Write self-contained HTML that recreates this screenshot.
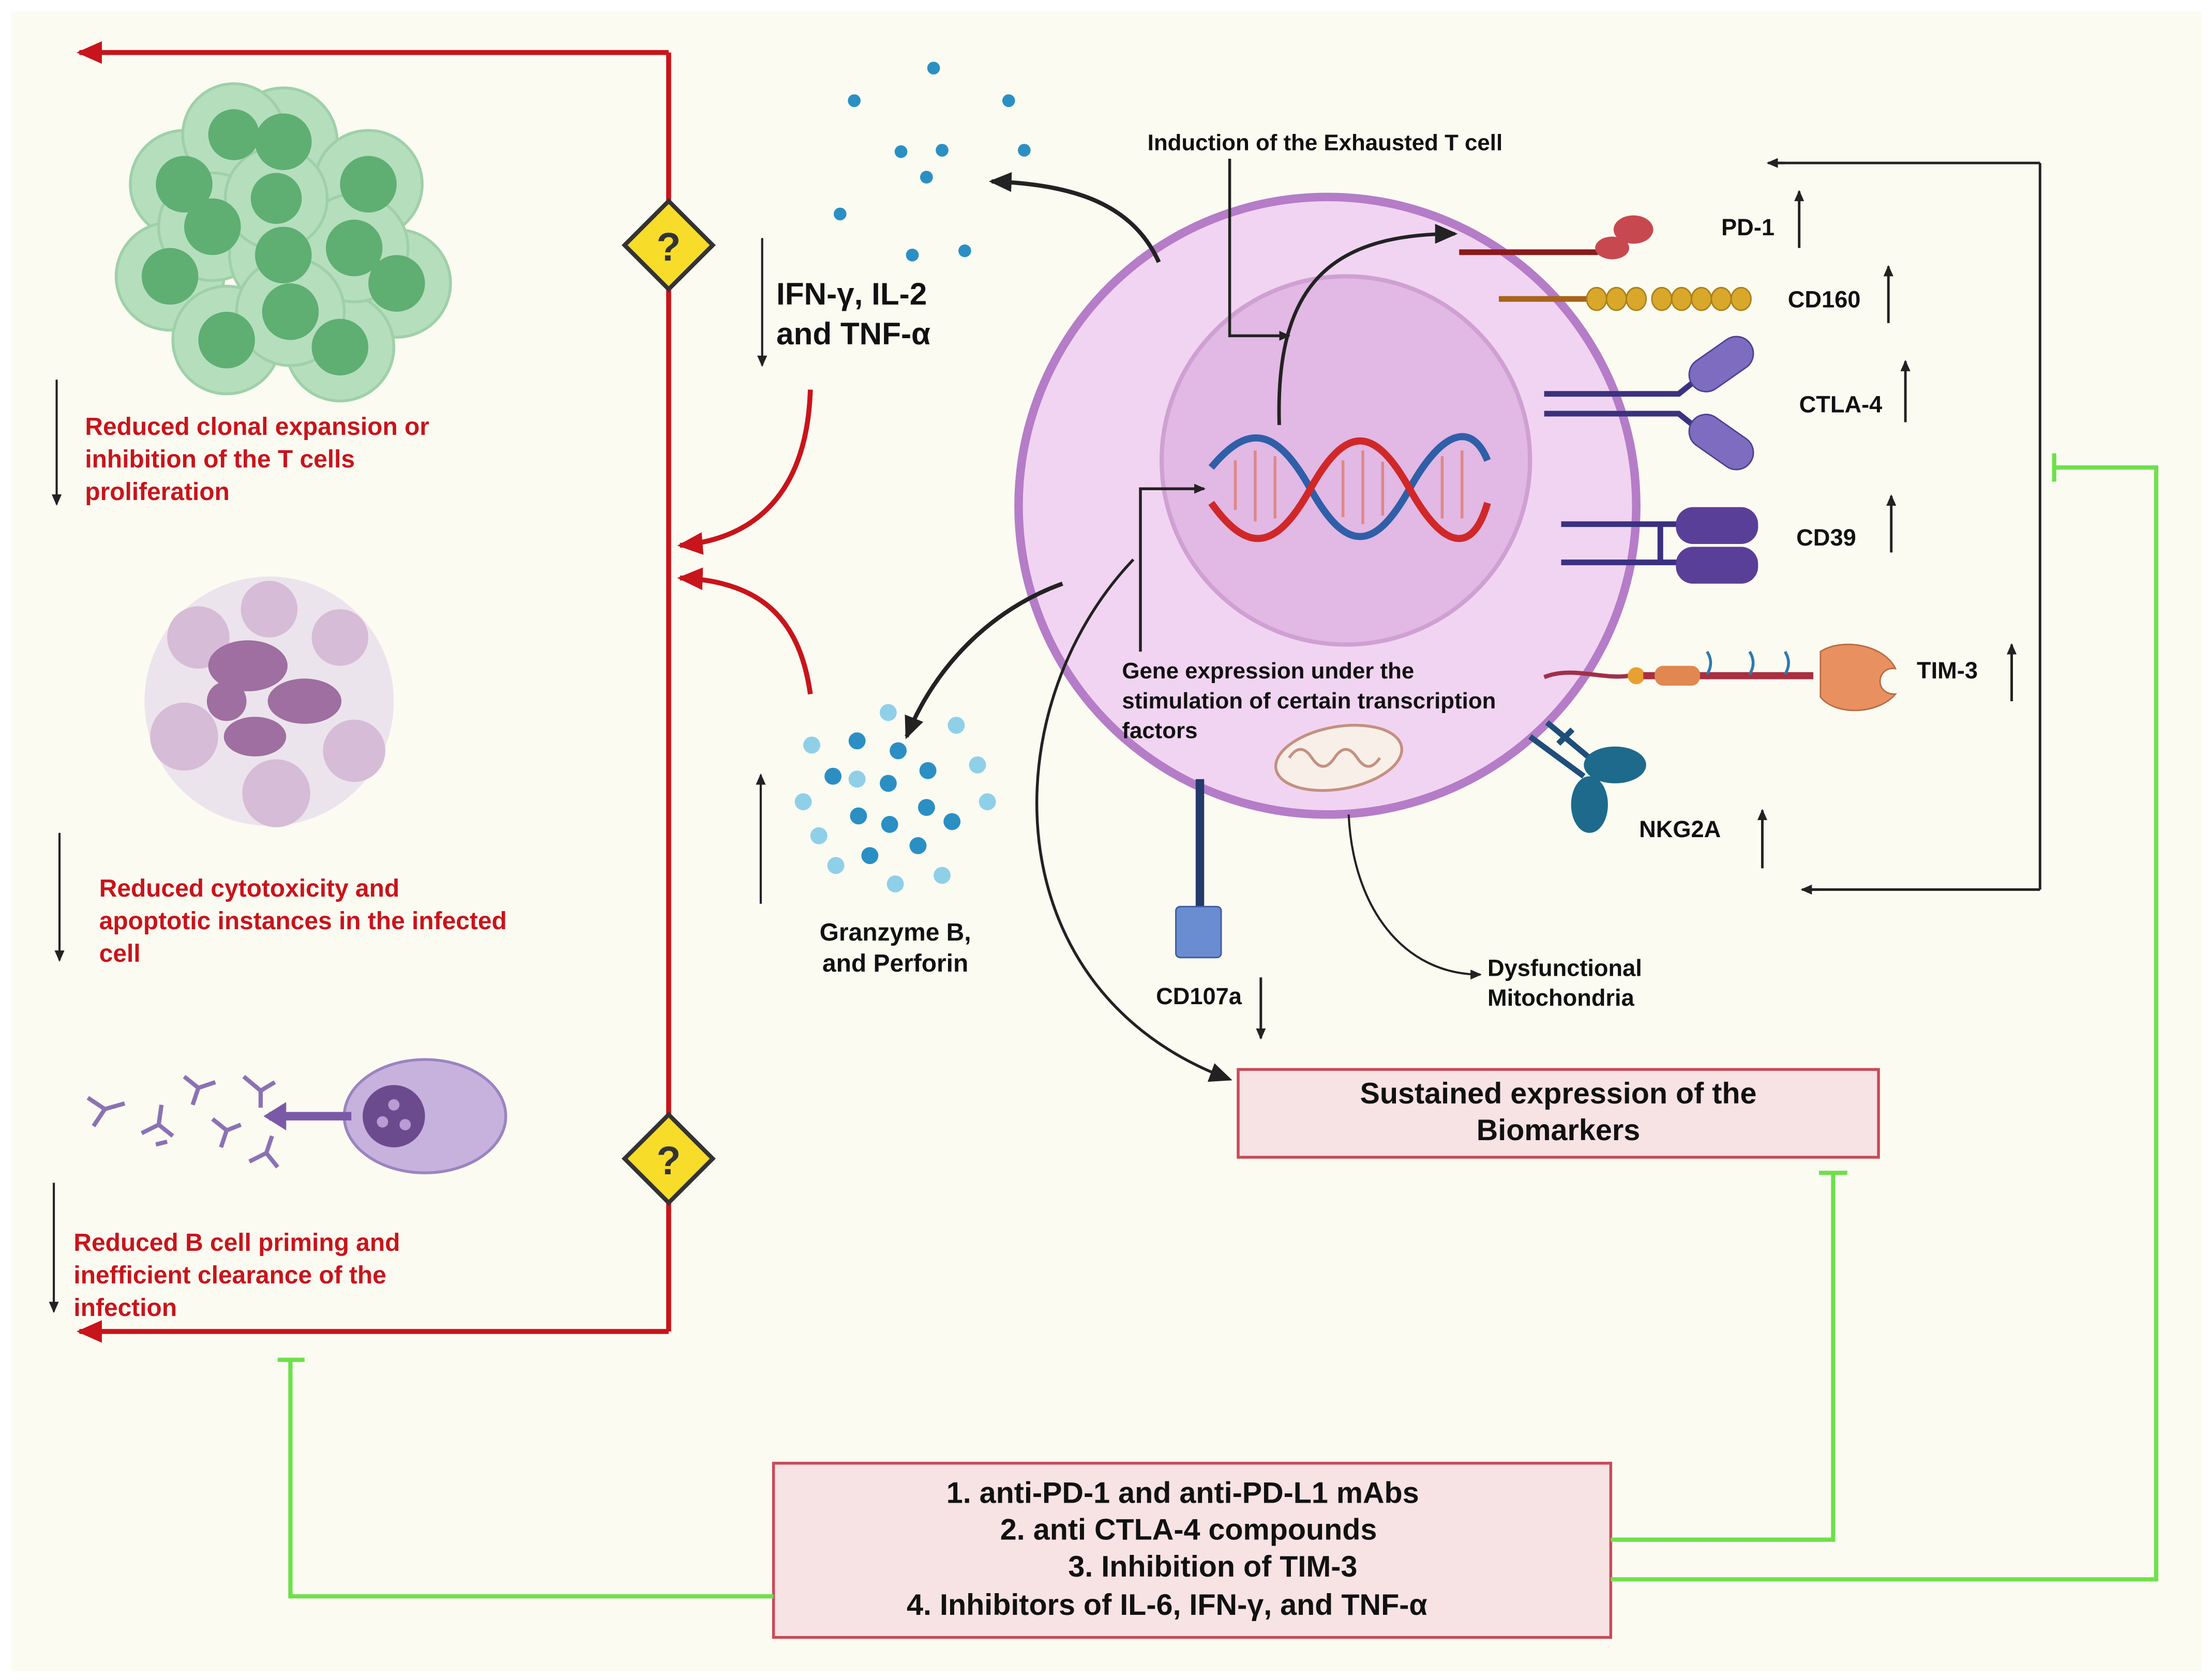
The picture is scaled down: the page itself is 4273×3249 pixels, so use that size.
<!DOCTYPE html>
<html><head><meta charset="utf-8">
<style>
html,body{margin:0;padding:0;background:#fff;}
svg{display:block;}
text{font-family:"Liberation Sans",Arial,sans-serif;font-weight:bold;}
</style></head>
<body>
<svg width="4273" height="3249" viewBox="0 0 1560 1186" xmlns="http://www.w3.org/2000/svg">
<defs>
<marker id="ar" markerWidth="10" markerHeight="10" refX="8" refY="5" orient="auto" markerUnits="userSpaceOnUse"><path d="M0,1 L9,5 L0,9 z" fill="#c8141b"/></marker>
<marker id="ab" markerWidth="16" markerHeight="14" refX="14" refY="7" orient="auto" markerUnits="userSpaceOnUse"><path d="M0,0 L16,7 L0,14 z" fill="#222"/></marker>
<marker id="as" markerWidth="8" markerHeight="8" refX="7" refY="4" orient="auto" markerUnits="userSpaceOnUse"><path d="M0,0.5 L8,4 L0,7.5 z" fill="#222"/></marker>
<marker id="arb" markerWidth="18" markerHeight="16" refX="16" refY="8" orient="auto" markerUnits="userSpaceOnUse"><path d="M0,0 L18,8 L0,16 z" fill="#c8141b"/></marker>
</defs>
<rect width="1560" height="1186" fill="#ffffff"/>
<rect x="8" y="8" width="1546" height="1172" fill="#fbfbf2"/>

<!-- red frame -->
<g stroke="#c8141b" stroke-width="3.5" fill="none">
<path d="M472,37 L56,37" marker-end="url(#arb)"/>
<path d="M472,37 L472,940"/>
<path d="M472,940 L56,940" marker-end="url(#arb)"/>
<path d="M572,275 C570,340 540,380 480,385" marker-end="url(#arb)"/>
<path d="M572,490 C565,440 540,410 480,408" marker-end="url(#arb)"/>
</g>
<g>
<rect x="450" y="151" width="44" height="44" transform="rotate(45 472 173)" fill="#f7dc2a" stroke="#333" stroke-width="3"/>
<text x="472" y="184" font-size="28" text-anchor="middle" font-family="Liberation Serif" font-weight="normal" fill="#333">?</text>
<rect x="450" y="796" width="44" height="44" transform="rotate(45 472 818)" fill="#f7dc2a" stroke="#333" stroke-width="3"/>
<text x="472" y="829" font-size="28" text-anchor="middle" font-family="Liberation Serif" font-weight="normal" fill="#333">?</text>
</g>

<!-- green cell cluster -->
<g stroke="#9fd0a8" stroke-width="2">
<g fill="#b5dfbc">
<circle cx="130" cy="130" r="38"/><circle cx="200" cy="100" r="38"/><circle cx="260" cy="130" r="38"/><circle cx="120" cy="195" r="38"/>
<circle cx="280" cy="200" r="38"/><circle cx="160" cy="240" r="38"/><circle cx="240" cy="245" r="38"/><circle cx="165" cy="95" r="36"/>
<circle cx="150" cy="160" r="38"/><circle cx="200" cy="180" r="38"/><circle cx="250" cy="175" r="38"/><circle cx="195" cy="140" r="36"/><circle cx="205" cy="220" r="38"/>
</g>
<g fill="#5fae72" stroke="none">
<circle cx="130" cy="130" r="20"/><circle cx="200" cy="100" r="20"/><circle cx="260" cy="130" r="20"/><circle cx="120" cy="195" r="20"/>
<circle cx="280" cy="200" r="20"/><circle cx="160" cy="240" r="20"/><circle cx="240" cy="245" r="20"/><circle cx="165" cy="95" r="18"/>
<circle cx="150" cy="160" r="20"/><circle cx="200" cy="180" r="20"/><circle cx="250" cy="175" r="20"/><circle cx="195" cy="140" r="18"/><circle cx="205" cy="220" r="20"/>
</g>
</g>

<!-- purple blob cluster -->
<g>
<circle cx="190" cy="495" r="88" fill="#ece4ec"/>
<g fill="#d6bcd6"><circle cx="140" cy="450" r="22"/><circle cx="240" cy="450" r="20"/><circle cx="130" cy="520" r="24"/><circle cx="250" cy="530" r="22"/><circle cx="190" cy="430" r="20"/><circle cx="195" cy="560" r="24"/></g>
<g fill="#9e6fa0"><ellipse cx="175" cy="470" rx="28" ry="18"/><ellipse cx="215" cy="495" rx="26" ry="16"/><ellipse cx="180" cy="520" rx="22" ry="14"/><circle cx="160" cy="495" r="14"/></g>
</g>

<!-- B cell + antibodies -->
<g>
<ellipse cx="300" cy="788" rx="57" ry="40" fill="#c7b2de" stroke="#9a84c0" stroke-width="2"/>
<circle cx="278" cy="788" r="22" fill="#6b4b8e"/>
<g fill="#b89cd4"><circle cx="278" cy="780" r="4"/><circle cx="270" cy="792" r="4"/><circle cx="286" cy="794" r="4"/></g>
<path d="M248,788 L190,788" stroke="#7a5aa8" stroke-width="6"/><path d="M186,788 L202,778 L202,798 z" fill="#7a5aa8"/>
<g stroke="#8a72b4" stroke-width="3" fill="none">
<path d="M62,775 l12,8 l14,-4 M74,783 l-8,12 M100,800 l12,-6 l10,8 M112,794 l2,-14 M130,760 l10,8 l12,-4 M140,768 l-4,12 M150,790 l10,8 l10,-4 M160,798 l-4,12 M172,760 l12,10 l10,-6 M184,770 l0,12 M176,820 l12,-6 l8,10 M188,814 l4,-12 M110,808 l8,-2"/>
</g>
</g>

<!-- red texts -->
<g fill="#c8141b" font-size="17.5">
<text x="60" y="307">Reduced clonal expansion or</text>
<text x="60" y="330">inhibition of the T cells</text>
<text x="60" y="353">proliferation</text>
<text x="70" y="633">Reduced cytotoxicity and</text>
<text x="70" y="656">apoptotic instances in the infected</text>
<text x="70" y="679">cell</text>
<text x="52" y="883">Reduced B cell priming and</text>
<text x="52" y="906">inefficient clearance of the</text>
<text x="52" y="929">infection</text>
</g>
<g stroke="#222" stroke-width="1.5">
<path d="M40,268 L40,356" marker-end="url(#as)"/>
<path d="M42,588 L42,678" marker-end="url(#as)"/>
<path d="M38,835 L38,926" marker-end="url(#as)"/>
<path d="M538,168 L538,258" marker-end="url(#as)"/>
<path d="M537,638 L537,547" marker-end="url(#as)"/>
</g>

<!-- cytokine dots -->
<g fill="#2b8fc4">
<circle cx="659" cy="48" r="4.5"/><circle cx="603" cy="71" r="4.5"/><circle cx="712" cy="71" r="4.5"/><circle cx="636" cy="107" r="4.5"/><circle cx="665" cy="106" r="4.5"/><circle cx="723" cy="106" r="4.5"/><circle cx="654" cy="125" r="4.5"/><circle cx="593" cy="151" r="4.5"/><circle cx="644" cy="180" r="4.5"/><circle cx="681" cy="177" r="4.5"/>
</g>
<g font-size="22" fill="#111"><text x="548" y="215">IFN-γ, IL-2</text><text x="548" y="243">and TNF-α</text></g>

<!-- granzyme dots -->
<g>
<g fill="#8fd0e8"><circle cx="627" cy="503" r="6"/><circle cx="573" cy="526" r="6"/><circle cx="675" cy="512" r="6"/><circle cx="567" cy="566" r="6"/><circle cx="697" cy="566" r="6"/><circle cx="590" cy="611" r="6"/><circle cx="632" cy="624" r="6"/><circle cx="665" cy="618" r="6"/><circle cx="605" cy="550" r="6"/><circle cx="690" cy="540" r="6"/><circle cx="578" cy="590" r="6"/></g>
<g fill="#2b8fc4"><circle cx="605" cy="523" r="6"/><circle cx="634" cy="530" r="6"/><circle cx="588" cy="548" r="6"/><circle cx="627" cy="553" r="6"/><circle cx="655" cy="544" r="6"/><circle cx="606" cy="576" r="6"/><circle cx="654" cy="570" r="6"/><circle cx="628" cy="582" r="6"/><circle cx="672" cy="580" r="6"/><circle cx="614" cy="604" r="6"/><circle cx="648" cy="597" r="6"/></g>
</g>
<g font-size="17.5" fill="#111" text-anchor="middle"><text x="632" y="664">Granzyme B,</text><text x="632" y="686">and Perforin</text></g>

<!-- T cell -->
<circle cx="937" cy="357" r="218" fill="#f1d4f1" stroke="#b57cc8" stroke-width="6"/>
<circle cx="950" cy="325" r="130" fill="#e2b8e4" stroke="#cfa0d2" stroke-width="3"/>
<!-- DNA -->
<g fill="none" stroke-width="5">
<path d="M855,330 C880,300 900,300 925,345 C950,390 970,390 995,345 C1020,300 1040,300 1050,325" stroke="#2f5fa8"/>
<path d="M855,355 C880,390 900,390 925,345 C950,300 970,300 995,345 C1020,390 1040,390 1050,355" stroke="#d02828"/>
<g stroke-width="2"><path d="M872,325 v35 M886,318 v50 M900,322 v44 M948,325 v40 M962,318 v52 M976,326 v38 M1018,322 v44 M1032,318 v48" stroke="#d88"/></g>
</g>
<g font-size="16" fill="#111">
<text x="810" y="106">Induction of the Exhausted T cell</text>
<text x="792" y="479">Gene expression under the</text>
<text x="792" y="500">stimulation of certain transcription</text>
<text x="792" y="521">factors</text>
</g>
<g stroke="#222" stroke-width="2" fill="none">
<path d="M868,112 L868,237 L910,237" marker-end="url(#as)"/>
<path d="M805,460 L805,345 L850,345" marker-end="url(#as)"/>
<path d="M903,300 C900,200 940,165 1027,165" stroke-width="2.5" marker-end="url(#ab)"/>
<path d="M818,185 C800,145 760,130 700,128" stroke-width="3" marker-end="url(#ab)"/>
<path d="M750,412 C700,430 660,470 640,520" stroke-width="3" marker-end="url(#ab)"/>
<path d="M800,395 C700,500 700,700 868,762" stroke-width="2" marker-end="url(#ab)"/>
<path d="M952,575 C955,640 990,688 1045,688" stroke-width="1.5" marker-end="url(#as)"/>
</g>

<!-- receptors -->
<g>
<path d="M1030,178 L1128,178" stroke="#8b1a1a" stroke-width="4"/>
<ellipse cx="1138" cy="175" rx="12" ry="8" fill="#c84850"/><ellipse cx="1153" cy="162" rx="14" ry="10" fill="#c84850"/>
<path d="M1058,211 L1120,211" stroke="#a8641c" stroke-width="4"/>
<g fill="#d9a72a" stroke="#a8801a" stroke-width="1"><ellipse cx="1127" cy="211" rx="7" ry="8"/><ellipse cx="1141" cy="211" rx="7" ry="8"/><ellipse cx="1155" cy="211" rx="7" ry="8"/><ellipse cx="1173" cy="211" rx="7" ry="8"/><ellipse cx="1187" cy="211" rx="7" ry="8"/><ellipse cx="1201" cy="211" rx="7" ry="8"/><ellipse cx="1215" cy="211" rx="7" ry="8"/><ellipse cx="1229" cy="211" rx="7" ry="8"/></g>
<g stroke="#3a3280" stroke-width="4" fill="none"><path d="M1090,278 L1185,278 L1195,270 M1090,292 L1185,292 L1195,300"/></g>
<rect x="1190" y="245" width="50" height="24" rx="12" transform="rotate(-35 1215 257)" fill="#7d6cbf" stroke="#4c3f90"/>
<rect x="1190" y="300" width="50" height="24" rx="12" transform="rotate(35 1215 312)" fill="#7d6cbf" stroke="#4c3f90"/>
<g stroke="#3a3280" stroke-width="4"><path d="M1102,370 L1185,370 M1102,397 L1185,397 M1172,370 L1172,397"/></g>
<rect x="1183" y="358" width="58" height="26" rx="12" fill="#5a3f98"/>
<rect x="1183" y="386" width="58" height="26" rx="12" fill="#5a3f98"/>
<path d="M1090,478 C1110,470 1130,480 1150,477" stroke="#a0304a" stroke-width="3" fill="none"/>
<circle cx="1155" cy="477" r="6" fill="#e8a030"/>
<path d="M1160,477 L1280,477" stroke="#a83040" stroke-width="5"/>
<rect x="1168" y="470" width="32" height="14" rx="6" fill="#e08850"/>
<g stroke="#2c7ab0" stroke-width="2" fill="none"><path d="M1205,460 q5,8 0,16 M1235,460 q5,8 0,16 M1260,460 q5,8 0,16"/></g>
<path d="M1285,460 C1300,450 1330,455 1338,472 C1325,470 1322,490 1338,490 C1325,505 1295,505 1285,492 z" fill="#e89060" stroke="#b86a40"/>
<g stroke="#1e4e7a" stroke-width="4"><path d="M1080,520 L1118,548 M1092,510 L1128,540 M1100,525 L1110,515"/></g>
<ellipse cx="1140" cy="540" rx="22" ry="13" fill="#1e6a8c"/>
<ellipse cx="1122" cy="568" rx="13" ry="20" fill="#1e6a8c"/>
<!-- CD107a -->
<path d="M847,550 L847,642" stroke="#243a6a" stroke-width="6"/>
<rect x="830" y="640" width="32" height="36" rx="3" fill="#6a8cd0" stroke="#3a5aa0"/>
<!-- mitochondria -->
<ellipse cx="945" cy="535" rx="45" ry="22" fill="#f8efe8" stroke="#c49080" stroke-width="2" transform="rotate(-10 945 535)"/>
<path d="M910,535 q8,-12 16,0 q8,12 16,0 q8,-12 16,0 q8,12 16,0" stroke="#c49080" stroke-width="2" fill="none"/>
</g>
<g font-size="16.5" fill="#111">
<text x="1215" y="166">PD-1</text>
<text x="1262" y="217">CD160</text>
<text x="1270" y="291">CTLA-4</text>
<text x="1268" y="385">CD39</text>
<text x="1353" y="479">TIM-3</text>
<text x="1157" y="591">NKG2A</text>
<text x="816" y="709">CD107a</text>
<text x="1050" y="689">Dysfunctional</text>
<text x="1050" y="710">Mitochondria</text>
</g>
<g stroke="#222" stroke-width="1.8">
<path d="M1270,175 L1270,135" marker-end="url(#as)"/>
<path d="M1333,228 L1333,188" marker-end="url(#as)"/>
<path d="M1345,298 L1345,255" marker-end="url(#as)"/>
<path d="M1335,390 L1335,350" marker-end="url(#as)"/>
<path d="M1420,495 L1420,455" marker-end="url(#as)"/>
<path d="M1244,613 L1244,572" marker-end="url(#as)"/>
<path d="M890,690 L890,733" marker-end="url(#as)"/>
<path d="M1440,115 L1440,628 M1440,115 L1250,115 M1440,628 L1274,628" fill="none"/>
<path d="M1260,115 L1248,115" marker-end="url(#as)"/>
<path d="M1284,628 L1272,628" marker-end="url(#as)"/>
</g>

<!-- boxes -->
<rect x="874" y="755" width="452" height="62" fill="#f7e2e4" stroke="#c84a58" stroke-width="2"/>
<g font-size="21" fill="#111" text-anchor="middle"><text x="1100" y="779">Sustained expression of the</text><text x="1100" y="805">Biomarkers</text></g>
<rect x="546" y="1033" width="591" height="123" fill="#f7e2e4" stroke="#c84a58" stroke-width="2"/>
<g font-size="21" fill="#111">
<text x="668" y="1061">1.  anti-PD-1 and anti-PD-L1 mAbs</text>
<text x="706" y="1087">2.   anti CTLA-4 compounds</text>
<text x="754" y="1113">3. Inhibition of TIM-3</text>
<text x="640" y="1140">4. Inhibitors of IL-6, IFN-γ, and TNF-α</text>
</g>

<!-- green inhibit lines -->
<g stroke="#6ee04a" stroke-width="3" fill="none">
<path d="M1137,1087 L1294,1087 L1294,828 M1284,828 L1304,828"/>
<path d="M1137,1115 L1522,1115 L1522,330 L1450,330 M1450,320 L1450,340"/>
<path d="M546,1127 L205,1127 L205,960 M196,960 L215,960"/>
</g>
</svg>
</body></html>
